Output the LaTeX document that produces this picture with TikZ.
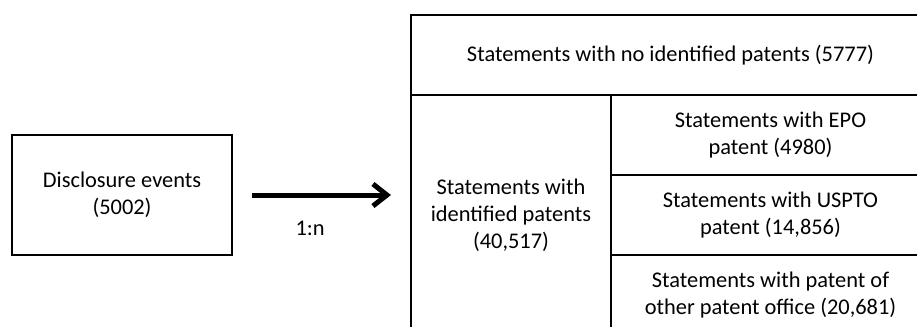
\documentclass[tikz,border=0pt]{standalone}
\usepackage{fontspec}
\setmainfont{Carlito}
\usetikzlibrary{arrows.meta,positioning}
\begin{document}
\begin{tikzpicture}[x=0.5pt, y=-0.5pt,
  cell/.style={draw=black, line width=1pt, align=center, inner sep=0pt,
    font=\fontsize{11.2}{13.5}\selectfont},
  link/.style={line width=2.5pt, -{Straight Barb[length=7pt,width=11pt]}}]

  \useasboundingbox (0,0) rectangle (917,327);
  \clip (0,0) rectangle (917,327);

  % Disclosure events (left)
  \node[cell, minimum width=110pt, minimum height=60pt] (events) at (122,195) {Disclosure events\\(5002)};

  % Statement cells (right, cut off by the page)
  \node[cell, minimum width=259.5pt, minimum height=40pt] (nopat) at (670.5,55) {Statements with no identified patents (5777)};
  \node[cell, minimum width=100pt, minimum height=120pt] (idpat) at (511,215) {Statements with\\identified patents\\(40,517)};
  \node[cell, minimum width=159.5pt, minimum height=40pt] (epo) at (770.5,135) {Statements with EPO\\patent (4980)};
  \node[cell, minimum width=159.5pt, minimum height=40pt] (uspto) at (770.5,215) {Statements with USPTO\\patent (14,856)};
  \node[cell, minimum width=159.5pt, minimum height=40pt] (other) at (770.5,295) {Statements with patent of\\other patent office (20,681)};

  % 1:n arrow
  \draw[link, shorten <=9.5pt, shorten >=9.5pt] (events.east) -- (events.east -| idpat.west)
    node[pos=0.436, yshift=-16.5pt, font=\fontsize{11.2}{13.5}\selectfont] (ratio) {1:n};

\end{tikzpicture}
\end{document}
